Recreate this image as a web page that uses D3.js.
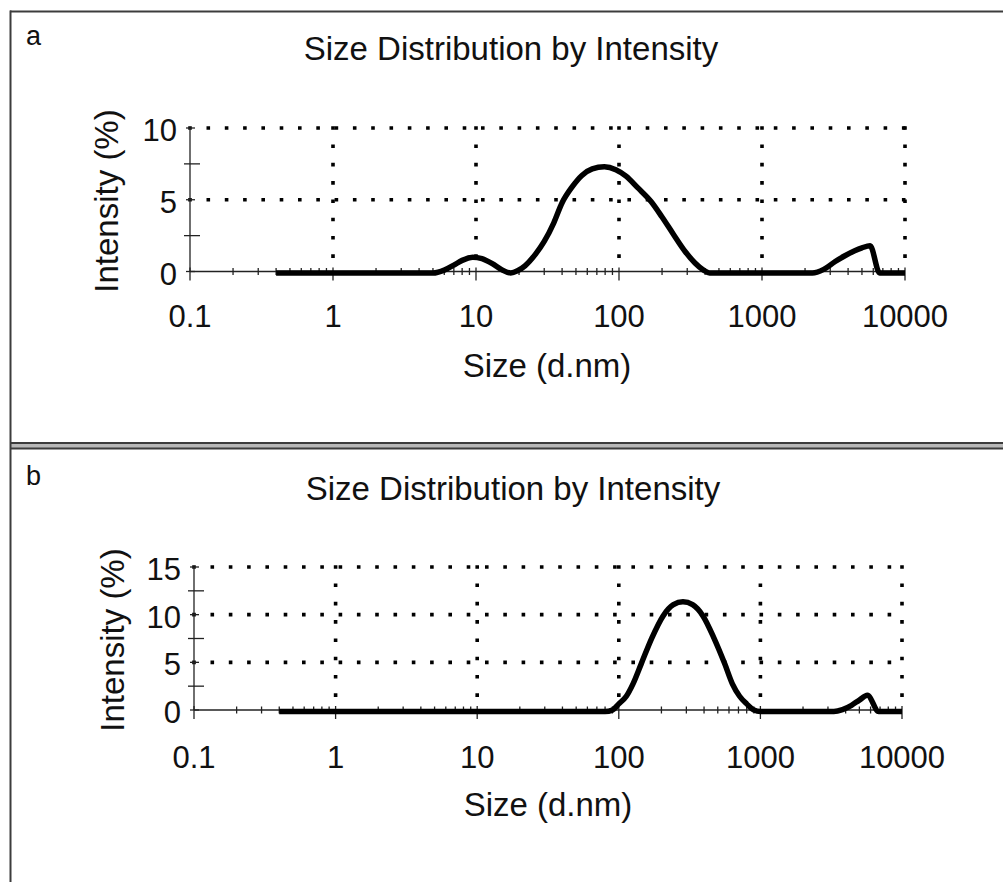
<!DOCTYPE html>
<html><head><meta charset="utf-8">
<script src="https://cdn.jsdelivr.net/npm/d3@7"></script>
<style>
html,body{margin:0;padding:0;background:#fff;}
svg{display:block;}
text{font-family:"Liberation Sans",Arial,Helvetica,sans-serif;fill:#111;}
</style>
</head><body>
<svg id="c" width="1003" height="882"></svg>
<script>
// ---------- data ----------
const panelLabels = ["a", "b"];
const chartTitle = "Size Distribution by Intensity";
const xAxisTitle = "Size (d.nm)";
const yAxisTitle = "Intensity (%)";
const xTickValues = [0.1, 1, 10, 100, 1000, 10000];
const xTickLabels = ["0.1", "1", "10", "100", "1000", "10000"];
const yTicksA = [0, 5, 10];
const yTicksB = [0, 5, 10, 15];

// panel a: size (d.nm) and intensity (%)
const sizesA = [0.4, 2, 5, 6, 7, 8, 9.5, 11, 13, 15, 17.5, 19.5, 22, 26, 30, 35, 40, 47, 55, 65,
                79, 95, 112, 135, 167, 200, 240, 290, 340, 390, 430, 1000, 2250, 2700, 3250, 3800, 4450, 5000, 5700, 6650, 10000];
const intensityA = [0, 0, 0, 0.2, 0.55, 0.88, 1.1, 1.0, 0.65, 0.25, 0, 0.15, 0.5, 1.3, 2.2, 3.5, 4.9, 6.0, 6.8, 7.25,
                    7.4, 7.2, 6.75, 5.95, 5.0, 3.9, 2.7, 1.5, 0.7, 0.2, 0, 0, 0, 0.25, 0.8, 1.2, 1.55, 1.75, 1.9, 0, 0];

// panel b
const sizesB = [0.4, 10, 80, 90, 100, 113, 126, 144, 171, 205, 243, 284, 332, 394, 470, 560, 634, 713, 800, 900,
                1000, 3300, 3800, 4400, 5000, 5700, 6850, 10000];
const intensityB = [0, 0, 0, 0.15, 0.8, 1.6, 2.9, 5.0, 7.7, 10.0, 11.2, 11.5, 11.2, 10.0, 7.7, 5.0, 2.9, 1.6, 0.8, 0.15,
                    0, 0, 0.2, 0.65, 1.2, 1.7, 0, 0];

// ---------- drawing ----------
const svg = d3.select("#c");
const W = 1003, H = 882;

// frames
const frameColor = "#3c3c3c";
svg.append("rect").attr("x", 10).attr("y", 442.5).attr("width", W).attr("height", 6.5).attr("fill", "#b8b8b8");
svg.append("line").attr("x1", 10).attr("x2", W + 5).attr("y1", 11.5).attr("y2", 11.5).attr("stroke", frameColor).attr("stroke-width", 2);
svg.append("line").attr("x1", 10.5).attr("x2", 10.5).attr("y1", 10.5).attr("y2", H + 5).attr("stroke", frameColor).attr("stroke-width", 2);
svg.append("line").attr("x1", 10).attr("x2", W + 5).attr("y1", 443).attr("y2", 443).attr("stroke", frameColor).attr("stroke-width", 1.8);
svg.append("line").attr("x1", 10).attr("x2", W + 5).attr("y1", 448.5).attr("y2", 448.5).attr("stroke", frameColor).attr("stroke-width", 1.8);

const panels = [
  {label: panelLabels[0], sizes: sizesA, values: intensityA, yTicks: yTicksA,
   x0: 190, x1: 905, yb: 271.5, yt: 128, labelY: 45, titleX: 511, titleY: 60,
   xTickY: 327, xTitleX: 547, xTitleY: 377, yTitleX: 117.5, yTitleY: 201},
  {label: panelLabels[1], sizes: sizesB, values: intensityB, yTicks: yTicksB,
   x0: 194, x1: 902, yb: 710, yt: 567, labelY: 485, titleX: 513, titleY: 500,
   xTickY: 768, xTitleX: 548, xTitleY: 816, yTitleX: 124, yTitleY: 640}
];

function drawPanel(p) {
  const g = svg.append("g");
  const yMax = d3.max(p.yTicks);
  const x = d3.scaleLog().domain([xTickValues[0], xTickValues[xTickValues.length - 1]]).range([p.x0, p.x1]);
  const y = d3.scaleLinear().domain([0, yMax]).range([p.yb, p.yt]);

  // panel letter + title
  g.append("text").attr("x", 26).attr("y", p.labelY).attr("font-size", 27).text(p.label);
  g.append("text").attr("x", p.titleX).attr("y", p.titleY).attr("text-anchor", "middle")
    .attr("font-size", 33).text(chartTitle);

  // dotted grid
  const dot = {"stroke": "#000", "stroke-width": 3.6, "stroke-dasharray": "3.6,14.7"};
  const grid = g.append("g");
  xTickValues.slice(1).forEach(v => {
    const l = grid.append("line").attr("x1", x(v)).attr("x2", x(v)).attr("y1", y(yMax) - 1.8).attr("y2", y(0));
    Object.entries(dot).forEach(([k, val]) => l.attr(k, val));
  });
  p.yTicks.slice(1).forEach(v => {
    const l = grid.append("line").attr("x1", x(xTickValues[0]) - 1.8).attr("x2", x(xTickValues[xTickValues.length - 1]) + 1.8)
      .attr("y1", y(v)).attr("y2", y(v));
    Object.entries(dot).forEach(([k, val]) => l.attr(k, val));
  });

  // axes lines
  const ax = g.append("g").attr("stroke", "#222").attr("stroke-width", 1.3);
  ax.append("line").attr("x1", x.range()[0]).attr("x2", x.range()[1]).attr("y1", y(0)).attr("y2", y(0));
  ax.append("line").attr("x1", x.range()[0]).attr("x2", x.range()[0]).attr("y1", y(0)).attr("y2", y(yMax));

  // x ticks
  xTickValues.forEach(v => {
    ax.append("line").attr("x1", x(v)).attr("x2", x(v)).attr("y1", y(0) - 4).attr("y2", y(0) + 9);
  });
  xTickValues.slice(0, -1).forEach(d => {
    d3.range(2, 10).forEach(k => {
      ax.append("line").attr("x1", x(d * k)).attr("x2", x(d * k)).attr("y1", y(0) - 3.5).attr("y2", y(0) + 3.5);
    });
  });
  // y ticks
  const x0 = x.range()[0];
  p.yTicks.forEach((v, i) => {
    ax.append("line").attr("x1", x0 - 4).attr("x2", x0 + 5).attr("y1", y(v)).attr("y2", y(v));
    if (i < p.yTicks.length - 1) {
      const m = (v + p.yTicks[i + 1]) / 2;
      ax.append("line").attr("x1", x0 - 6).attr("x2", x0 + 10).attr("y1", y(m)).attr("y2", y(m));
    }
  });

  // curve
  const data = p.sizes.map((s, i) => ({s: s, v: p.values[i]}));
  const line = d3.line().curve(d3.curveMonotoneX).x(d => x(d.s)).y(d => y(d.v));
  g.append("path").datum(data).attr("d", line).attr("fill", "none").attr("stroke", "#000")
    .attr("stroke-width", 5.5).attr("stroke-linejoin", "round").attr("stroke-linecap", "butt")
    .attr("transform", "translate(0,1.5)");

  // tick labels
  xTickValues.forEach((v, i) => {
    g.append("text").attr("x", x(v)).attr("y", p.xTickY).attr("text-anchor", "middle")
      .attr("font-size", 31).text(xTickLabels[i]);
  });
  p.yTicks.forEach(v => {
    g.append("text").attr("x", x0 - 13).attr("y", y(v) + 13).attr("text-anchor", "end")
      .attr("font-size", 31).text(String(v));
  });

  // axis titles
  g.append("text").attr("x", p.xTitleX).attr("y", p.xTitleY).attr("text-anchor", "middle")
    .attr("font-size", 33).text(xAxisTitle);
  g.append("text").attr("transform", `translate(${p.yTitleX},${p.yTitleY}) rotate(-90)`)
    .attr("text-anchor", "middle").attr("font-size", 33).text(yAxisTitle);
}

panels.forEach(drawPanel);
</script>
</body></html>
